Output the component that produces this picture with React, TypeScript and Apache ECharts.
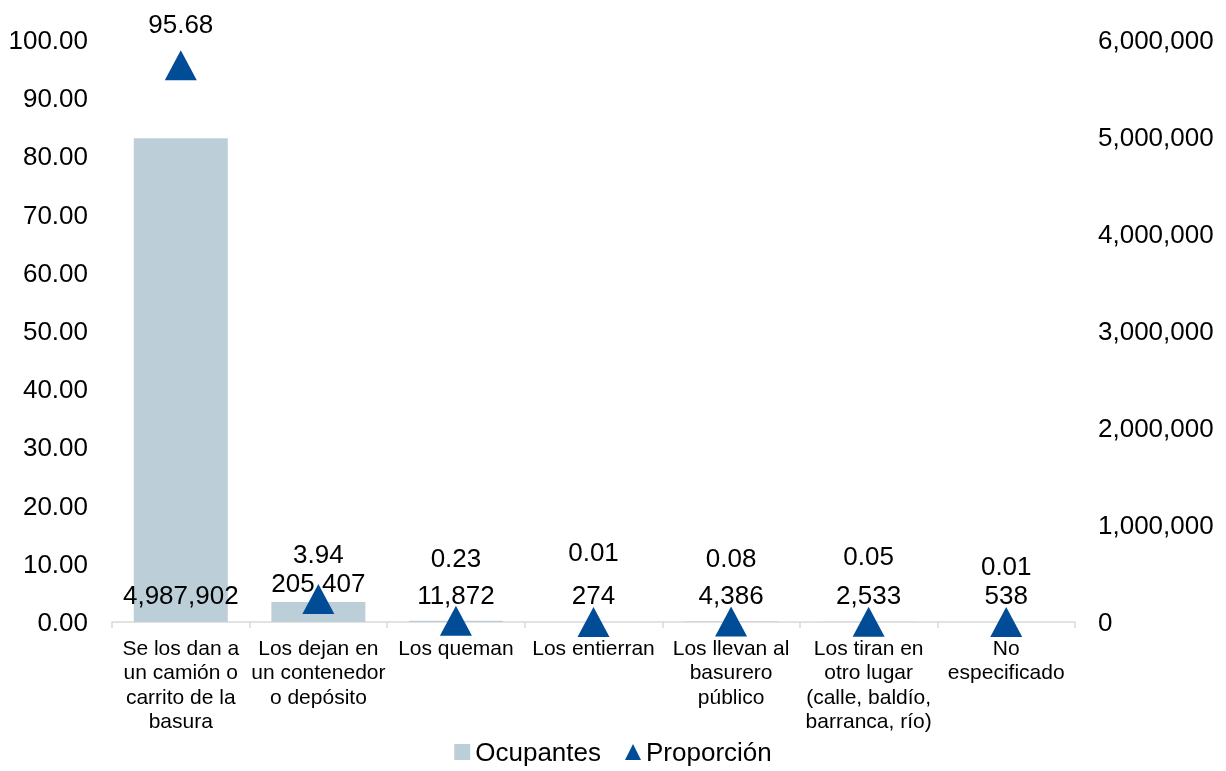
import React, { useEffect, useRef } from "react";
import * as echarts from "echarts";

const categories = [
  "Se los dan a\nun camión o\ncarrito de la\nbasura",
  "Los dejan en\nun contenedor\no depósito",
  "Los queman",
  "Los entierran",
  "Los llevan al\nbasurero\npúblico",
  "Los tiran en\notro lugar\n(calle, baldío,\nbarranca, río)",
  "No\nespecificado",
];
const ocupantes = [4987902, 205407, 11872, 274, 4386, 2533, 538];
const proporcion = [95.68, 3.94, 0.23, 0.01, 0.08, 0.05, 0.01];
const proporcionLabelOffsets = [-41, -45, -63, -70, -64, -66, -56];
const ocupantesLabelOffsets = [0, -12, 0, 0, 0, 0, 0];

const FONT = "'Liberation Sans', Arial, sans-serif";
const fmtInt = (v: number) => Math.round(v).toLocaleString("en-US");

export default function App() {
  const ref = useRef<HTMLDivElement>(null);
  useEffect(() => {
    if (!ref.current) return;
    const chart = echarts.init(ref.current, undefined, { renderer: "svg" });
    chart.setOption({
      animation: false,
      textStyle: { fontFamily: FONT, color: "#000" },
      grid: { left: 112, right: 151, top: 40, bottom: 149 },
      legend: {
        top: 739,
        left: "center",
        padding: 0,
        itemWidth: 16,
        itemHeight: 16,
        itemGap: 24,
        textStyle: { fontSize: 26, lineHeight: 26, color: "#000", fontFamily: FONT },
        data: [
          { name: "Ocupantes", icon: "rect" },
          { name: "Proporción", icon: "triangle" },
        ],
      },
      xAxis: {
        type: "category",
        data: categories,
        axisLine: { lineStyle: { color: "#d9d9d9", width: 1.5 } },
        axisTick: { show: true, length: 6, lineStyle: { color: "#d9d9d9", width: 1.5 } },
        axisLabel: {
          interval: 0,
          margin: 13,
          fontSize: 21,
          lineHeight: 24.4,
          color: "#000",
          fontFamily: FONT,
        },
        splitLine: { show: false },
      },
      yAxis: [
        {
          type: "value",
          min: 0,
          max: 100,
          interval: 10,
          axisLine: { show: false },
          axisTick: { show: false },
          splitLine: { show: false },
          axisLabel: {
            margin: 24,
            fontSize: 26,
            color: "#000",
            fontFamily: FONT,
            formatter: (v: number) => v.toFixed(2),
          },
        },
        {
          type: "value",
          min: 0,
          max: 6000000,
          interval: 1000000,
          axisLine: { show: false },
          axisTick: { show: false },
          splitLine: { show: false },
          axisLabel: {
            margin: 23,
            fontSize: 26,
            color: "#000",
            fontFamily: FONT,
            formatter: (v: number) => fmtInt(v),
          },
        },
      ],
      series: [
        {
          name: "Ocupantes",
          type: "bar",
          yAxisIndex: 1,
          barWidth: 94,
          itemStyle: { color: "#BCCFD8" },
          z: 2,
          data: ocupantes.map((v, i) => ({
            value: v,
            label: {
              show: true,
              position: "insideBottom",
              distance: 14,
              offset: [0, ocupantesLabelOffsets[i]],
              fontSize: 26,
              color: "#000",
              fontFamily: FONT,
              formatter: () => fmtInt(v),
            },
          })),
        },
        {
          name: "Proporción",
          type: "scatter",
          yAxisIndex: 0,
          symbol: "triangle",
          symbolSize: [32, 30],
          itemStyle: { color: "#004C97", opacity: 1 },
          z: 5,
          data: proporcion.map((v, i) => ({
            value: v,
            label: {
              show: true,
              position: "inside",
              offset: [0, proporcionLabelOffsets[i]],
              fontSize: 26,
              color: "#000",
              fontFamily: FONT,
              formatter: () => v.toFixed(2),
            },
          })),
        },
      ],
    });
    return () => chart.dispose();
  }, []);
  return (
    <div
      ref={ref}
      style={{ position: "fixed", left: 0, top: 0, width: 1226, height: 771 }}
    />
  );
}
